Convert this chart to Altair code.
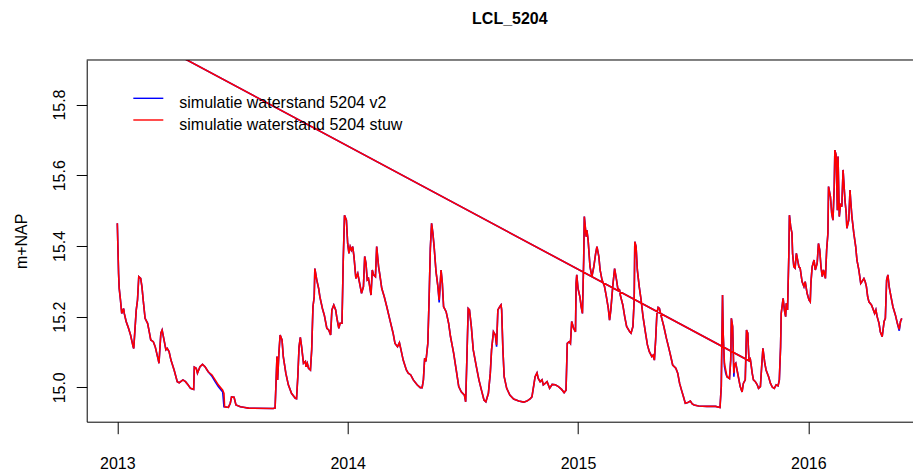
import altair as alt
import pandas as pd

# ---------------- texts / categories ----------------
title_text = "LCL_5204"
y_title = "m+NAP"
series_names = ["simulatie waterstand 5204 v2", "simulatie waterstand 5204 stuw"]
series_colors = ["#0000FF", "#FF0000"]
x_tick_years = [2013, 2014, 2015, 2016]
y_ticks = [15.0, 15.2, 15.4, 15.6, 15.8]
start_date = "2013-01-01"

# ---------------- data (days since start_date, m+NAP) ----------------
days = [
    0, 2, 3, 5, 7, 10, 11, 14, 17, 21, 25, 26, 30, 32, 34, 37, 39, 41, 44, 48,
    51, 53, 57, 60, 65, 66, 69, 71, 74, 77, 79, 82, 85, 90, 95, 98, 104, 108, 112, 116,
    121, 122, 125, 127, 131, 135, 139, 144, 150, 155, 160, 167, 169, 170, 176, 179, 181, 185, 188, 195,
    202, 208, 247, 250, 253, 254, 256, 258, 261, 263, 267, 271, 276, 282, 284, 286, 288, 290, 292, 295,
    298, 299, 301, 303, 306, 308, 310, 312, 313, 316, 319, 321, 325, 328, 332, 335, 338, 340, 343, 346,
    348, 351,
    353, 356, 358, 360, 363, 365, 367, 369, 371, 373, 375, 378, 381, 384, 387, 390, 392, 394, 396, 398,
    402, 404, 406, 409, 411, 414, 416, 419, 423, 427, 432, 437, 440, 444, 447, 449, 453, 458, 461, 465,
    469, 475, 480, 483, 485, 487, 489, 492, 494, 496, 498, 500, 502, 505, 508, 510, 513, 515, 517, 521,
    525, 528, 533, 537, 541, 545, 550, 552, 554, 556, 558, 561, 564, 569, 573, 577, 581, 584, 588, 591,
    593, 596, 599, 601, 603, 606, 608, 609, 611, 613, 617, 622, 628, 636, 644, 649, 654, 657, 660, 662,
    665, 667, 670, 673, 675, 678, 681, 685, 689, 694, 699, 704, 708, 711, 713, 716, 718, 720, 723, 726,
    727, 728, 730, 733, 735, 737, 739, 740, 743, 744, 746, 749, 752, 755, 758, 760, 763, 765, 768, 772,
    775, 778, 780, 782, 785, 788, 791, 793, 796,
    797, 801, 804, 807, 812, 814, 817, 819, 820, 822, 824, 827, 830, 833, 837, 840, 843, 847, 849, 851,
    853, 855, 857, 859, 862, 866, 870, 874, 877, 880, 885, 888, 891, 894, 897, 900, 904, 908, 911, 914,
    921, 934, 948, 955, 957, 959, 960, 962, 964, 966, 970, 972, 973, 975, 977, 978, 980, 982, 985, 987,
    990, 992, 995, 997, 999, 1000, 1001, -100, 1001, 1003, 1004, 1006, 1008, 1011, 1014, 1016, 1019, 1021,
    1023, 1024, 1026, 1028, 1032, 1035, 1038, 1041, 1044, 1047, 1049, 1051, 1052, 1055, 1057, 1059, 1060, 1062,
    1064, 1065, 1067, 1069, 1070, 1072, 1074, 1076, 1078, 1080, 1082, 1085, 1088, 1090, 1093, 1096, 1098, 1099,
    1101, 1104, 1106, 1109, 1111, 1113, 1115, 1117, 1119, 1122, 1124, 1126, 1127, 1130, 1132, 1134, 1136, 1137,
    1139, 1141, 1142, 1144, 1146, 1148, 1150, 1151, 1153, 1155, 1156, 1159, 1161, 1162, 1164, 1167, 1170, 1172,
    1175, 1178, 1180, 1183, 1185, 1187, 1189, 1191, 1195, 1198, 1200, 1202, 1204, 1207, 1209, 1212, 1215, 1217,
    1219, 1221, 1223, 1226, 1229, 1233, 1236, 1239, 1241, 1243,
]

level_stuw = [
    15.464, 15.322, 15.280, 15.247, 15.209, 15.223, 15.209, 15.186, 15.171, 15.148, 15.115, 15.110, 15.219, 15.247, 15.313, 15.308, 15.285, 15.247, 15.195, 15.181,
    15.153, 15.134, 15.129, 15.115, 15.077, 15.068, 15.153, 15.162, 15.134, 15.106, 15.110, 15.101, 15.077, 15.049, 15.016, 15.013, 15.021, 15.016, 15.007, 14.997,
    14.994, 15.057, 15.054, 15.040, 15.058, 15.065, 15.058, 15.044, 15.035, 15.021, 15.007, 14.992, 14.983, 14.945, 14.943, 14.955, 14.973, 14.972, 14.950, 14.945,
    14.943, 14.941, 14.940, 14.941, 15.087, 15.021, 15.096, 15.148, 15.134, 15.087, 15.040, 15.007, 14.983, 14.969, 14.968, 15.030, 15.115, 15.141, 15.115, 15.068,
    15.073, 15.058, 15.068, 15.054, 15.049, 15.106, 15.228, 15.256, 15.336, 15.304, 15.280, 15.256, 15.223, 15.204, 15.167, 15.162, 15.148, 15.219, 15.233, 15.219,
    15.195, 15.167,
    15.181, 15.181, 15.360, 15.487, 15.473, 15.407, 15.379, 15.398, 15.388, 15.398, 15.370, 15.308, 15.322, 15.294, 15.266, 15.285, 15.370, 15.351, 15.304, 15.308,
    15.261, 15.332, 15.318, 15.313, 15.398, 15.341, 15.318, 15.280, 15.256, 15.228, 15.190, 15.153, 15.124, 15.115, 15.126, 15.110, 15.077, 15.049, 15.040, 15.035,
    15.021, 15.007, 14.999, 14.999, 15.021, 15.082, 15.073, 15.124, 15.247, 15.393, 15.464, 15.436, 15.398, 15.327, 15.285, 15.247, 15.332, 15.294, 15.228, 15.214,
    15.181, 15.143, 15.096, 15.049, 15.002, 14.987, 14.978, 14.959, 15.087, 15.223, 15.219, 15.171, 15.106, 15.058, 15.021, 14.992, 14.964, 14.959, 14.983, 15.040,
    15.106, 15.157, 15.148, 15.120, 15.219, 15.228, 15.233, 15.219, 15.106, 15.030, 14.997, 14.978, 14.967, 14.961, 14.958, 14.961, 14.967, 14.973, 15.007, 15.030,
    15.041, 15.025, 15.016, 15.021, 15.007, 15.011, 15.016, 14.997, 15.008, 15.007, 15.002, 14.994, 14.985, 14.992, 15.124, 15.129, 15.124, 15.186, 15.167, 15.157,
    15.294, 15.318, 15.280, 15.256, 15.228, 15.209, 15.360, 15.483, 15.426, 15.445, 15.417, 15.341, 15.313, 15.341, 15.379, 15.398, 15.370, 15.332, 15.304, 15.285,
    15.256, 15.223, 15.190, 15.219, 15.285, 15.336, 15.304, 15.280, 15.275,
    15.261, 15.233, 15.200, 15.172, 15.157, 15.153, 15.172, 15.247, 15.412, 15.398, 15.332, 15.285, 15.247, 15.200, 15.153, 15.120, 15.101, 15.087, 15.091, 15.077,
    15.134, 15.209, 15.226, 15.223, 15.200, 15.172, 15.139, 15.110, 15.087, 15.063, 15.054, 15.040, 15.011, 14.992, 14.974, 14.955, 14.957, 14.961, 14.953, 14.950,
    14.947, 14.946, 14.946, 14.943, 15.002, 15.261, 15.153, 15.068, 15.049, 15.030, 15.025, 15.077, 15.195, 15.172, 15.040, 15.063, 15.068, 15.049, 15.021, 15.002,
    14.987, 15.011, 15.021, 15.162, 15.153, 15.110, 15.075, 16.127, 15.075, 15.080, 15.068, 15.040, 15.021, 15.016, 15.007, 14.997, 15.002, 15.058,
    15.110, 15.096, 15.068, 15.049, 15.030, 15.011, 15.000, 14.997, 15.007, 15.004, 15.021, 15.115, 15.209, 15.252, 15.219, 15.200, 15.238, 15.219,
    15.370, 15.487, 15.454, 15.436, 15.379, 15.341, 15.337, 15.379, 15.360, 15.341, 15.337, 15.299, 15.285, 15.299, 15.266, 15.247, 15.242, 15.294,
    15.341, 15.360, 15.332, 15.351, 15.407, 15.389, 15.341, 15.313, 15.332, 15.308, 15.389, 15.436, 15.568, 15.539, 15.492, 15.473, 15.568, 15.671,
    15.657, 15.501, 15.653, 15.483, 15.520, 15.511, 15.615, 15.586, 15.530, 15.492, 15.450, 15.473, 15.558, 15.530, 15.483, 15.436, 15.398, 15.360,
    15.332, 15.294, 15.299, 15.308, 15.299, 15.285, 15.256, 15.242, 15.233, 15.219, 15.209, 15.219, 15.200, 15.181, 15.157, 15.143, 15.186, 15.195,
    15.303, 15.318, 15.285, 15.256, 15.228, 15.204, 15.181, 15.164, 15.186, 15.195,
]

# where the v2 run visibly differs from the "stuw" run (day -> m+NAP)
v2_differences = {
    150: 15.031, 155: 15.016, 160: 15.002, 167: 14.987, 169: 14.945,
    510: 15.240, 601: 15.115, 962: 15.060, 964: 15.040, 977: 15.030, 1239: 15.160,
}
level_v2 = [v2_differences.get(d, v) for d, v in zip(days, level_stuw)]

assert len(days) == len(level_stuw)

# ---------------- build tables ----------------
dates = (pd.Timestamp(start_date) + pd.to_timedelta(days, unit="D")).strftime("%Y-%m-%dT%H:%M:%S")
df_v2 = pd.DataFrame({"date": dates, "level": level_v2, "idx": range(len(days))})
df_stuw = pd.DataFrame({"date": dates, "level": level_stuw, "idx": range(len(days))})

FONT = "Liberation Sans"
W = 826.3
H = 361.7

x_enc = alt.X(
    "date:T",
    scale=alt.Scale(domain=[alt.DateTime(year=2012, month=11, date=13, hours=12),
                            alt.DateTime(year=2016, month=6, date=14, hours=19)]),
    axis=alt.Axis(values=[alt.DateTime(year=y, month=1, date=1) for y in x_tick_years],
                  format="%Y", tickSize=12, labelPadding=22, labelFlush=False,
                  labelOverlap=False, grid=False, title=None),
)
y_enc = alt.Y(
    "level:Q",
    scale=alt.Scale(domain=[14.9027, 15.926], nice=False, zero=False),
    axis=alt.Axis(values=y_ticks, format=".1f", labelAngle=270, labelAlign="center",
                  labelBaseline="alphabetic", tickSize=10.5, labelPadding=12,
                  labelFlush=False, labelOverlap=False, grid=False,
                  title=y_title, titleAngle=270, titleX=-60.7, titleY=H / 2,
                  titleAlign="center", titleBaseline="alphabetic"),
)

line_v2 = alt.Chart(df_v2).mark_line(color=series_colors[0], strokeWidth=1.6, clip=True).encode(
    x=x_enc, y=y_enc, order="idx:Q")
line_stuw = alt.Chart(df_stuw).mark_line(color=series_colors[1], strokeWidth=1.6, clip=True).encode(
    x=x_enc, y=y_enc, order="idx:Q")

top_rule = alt.Chart(pd.DataFrame({"k": [0]})).mark_rule(color="black", strokeWidth=1).encode(
    x=alt.value(0), x2=alt.value(W), y=alt.value(0))

# main title, centred over R's (wider) plot region
title_mark = alt.Chart(pd.DataFrame({"t": [title_text]})).mark_text(
    align="center", baseline="alphabetic", fontSize=16, fontWeight="bold",
    font=FONT, color="black").encode(
    x=alt.value(W / 2 + 10), y=alt.value(-35.5), text="t:N")

legend_layers = []
for i, (name, col) in enumerate(zip(series_names, series_colors)):
    ldf = pd.DataFrame({"label": [name]})
    legend_layers.append(
        alt.Chart(ldf).mark_rule(color=col, strokeWidth=1.4).encode(
            x=alt.value(46.6), x2=alt.value(76.6), y=alt.value(38.3 + i * 21.7)))
    legend_layers.append(
        alt.Chart(ldf).mark_text(align="left", baseline="alphabetic", fontSize=16,
                                 font=FONT, color="black").encode(
            x=alt.value(92.6), y=alt.value(48.2 + i * 21.7), text="label:N"))

chart = alt.layer(line_v2, line_stuw, top_rule, title_mark, *legend_layers).properties(
    width=W, height=H,
    autosize=alt.AutoSizeParams(type="none"),
    padding={"left": 78.7, "top": 52, "right": 0, "bottom": 50},
).configure_view(stroke=None).configure_axis(
    labelFont=FONT, titleFont=FONT, labelFontSize=16, titleFontSize=16,
    titleFontWeight="normal", labelColor="black", titleColor="black",
    domainColor="black", tickColor="black", domainWidth=1, tickWidth=1,
)

chart.save("out.html", embed_options={"renderer": "svg", "actions": False})
